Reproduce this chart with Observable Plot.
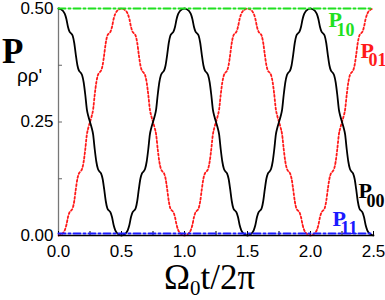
<!DOCTYPE html>
<html><head><meta charset="utf-8">
<script src="https://cdn.jsdelivr.net/npm/d3@7"></script>
<script src="https://cdn.jsdelivr.net/npm/@observablehq/plot@0.6"></script>
<style>body{margin:0;background:#fff}</style>
</head><body><div id="chart"></div>
<script>
// time grid, Omega0 t / 2pi
const t = d3.range(201).map(i => +(i * 0.0125).toFixed(4));
// P00 (black, solid)
const p00 = [
0.500,0.499,0.497,0.494,0.488,0.477,0.460,0.449,0.445,0.440,0.424,0.398,0.375,0.363,0.359,0.353,0.337,0.310,0.278,0.262,
0.250,0.238,0.222,0.190,0.163,0.147,0.141,0.137,0.125,0.102,0.076,0.060,0.055,0.051,0.040,0.023,0.012,0.006,0.003,0.001,
0.000,
0.001,0.003,0.006,0.012,0.023,0.040,0.051,0.055,0.060,0.076,0.102,0.125,0.137,0.141,0.147,0.163,0.190,0.222,0.238,0.250,
0.262,0.278,0.310,0.337,0.353,0.359,0.363,0.375,0.398,0.424,0.440,0.445,0.449,0.460,0.477,0.488,0.494,0.497,0.499,0.500,
0.499,0.497,0.494,0.488,0.477,0.460,0.449,0.445,0.440,0.424,0.398,0.375,0.363,0.359,0.353,0.337,0.310,0.278,0.262,0.250,
0.238,0.222,0.190,0.163,0.147,0.141,0.137,0.125,0.102,0.076,0.060,0.055,0.051,0.040,0.023,0.012,0.006,0.003,0.001,0.000,
0.001,0.003,0.006,0.012,0.023,0.040,0.051,0.055,0.060,0.076,0.102,0.125,0.137,0.141,0.147,0.163,0.190,0.222,0.238,0.250,
0.262,0.278,0.310,0.337,0.353,0.359,0.363,0.375,0.398,0.424,0.440,0.445,0.449,0.460,0.477,0.488,0.494,0.497,0.499,0.500,
0.499,0.497,0.494,0.488,0.477,0.460,0.449,0.445,0.440,0.424,0.398,0.375,0.363,0.359,0.353,0.337,0.310,0.278,0.262,0.250,
0.238,0.222,0.190,0.163,0.147,0.141,0.137,0.125,0.102,0.076,0.060,0.055,0.051,0.040,0.023,0.012,0.006,0.003,0.001,0.000
];
// P01 (red, dotted)
const p01 = [
0.000,0.001,0.003,0.006,0.012,0.023,0.040,0.051,0.055,0.060,0.076,0.102,0.125,0.137,0.141,0.147,0.163,0.190,0.222,0.238,
0.250,0.262,0.278,0.310,0.337,0.353,0.359,0.363,0.375,0.398,0.424,0.440,0.445,0.449,0.460,0.477,0.488,0.494,0.497,0.499,
0.500,
0.499,0.497,0.494,0.488,0.477,0.460,0.449,0.445,0.440,0.424,0.398,0.375,0.363,0.359,0.353,0.337,0.310,0.278,0.262,0.250,
0.238,0.222,0.190,0.163,0.147,0.141,0.137,0.125,0.102,0.076,0.060,0.055,0.051,0.040,0.023,0.012,0.006,0.003,0.001,0.000,
0.001,0.003,0.006,0.012,0.023,0.040,0.051,0.055,0.060,0.076,0.102,0.125,0.137,0.141,0.147,0.163,0.190,0.222,0.238,0.250,
0.262,0.278,0.310,0.337,0.353,0.359,0.363,0.375,0.398,0.424,0.440,0.445,0.449,0.460,0.477,0.488,0.494,0.497,0.499,0.500,
0.499,0.497,0.494,0.488,0.477,0.460,0.449,0.445,0.440,0.424,0.398,0.375,0.363,0.359,0.353,0.337,0.310,0.278,0.262,0.250,
0.238,0.222,0.190,0.163,0.147,0.141,0.137,0.125,0.102,0.076,0.060,0.055,0.051,0.040,0.023,0.012,0.006,0.003,0.001,0.000,
0.001,0.003,0.006,0.012,0.023,0.040,0.051,0.055,0.060,0.076,0.102,0.125,0.137,0.141,0.147,0.163,0.190,0.222,0.238,0.250,
0.262,0.278,0.310,0.337,0.353,0.359,0.363,0.375,0.398,0.424,0.440,0.445,0.449,0.460,0.477,0.488,0.494,0.497,0.499,0.500
];
// P10 (green) and P11 (blue), constant
const tEnds = [0, 2.5];
const p10 = [0.5, 0.5];
const p11 = [0.0, 0.0];
// ticks
const xTickLabels = [0, 0.5, 1.0, 1.5, 2.0, 2.5];
const xTickAll = [0, 0.25, 0.5, 0.75, 1.0, 1.25, 1.5, 1.75, 2.0, 2.25, 2.5];
const yTickLabels = [0, 0.25, 0.5];
const yTickAll = [0, 0.125, 0.25, 0.375, 0.5];

const black = t.map((x, i) => ({t: x, v: p00[i]}));
const red = t.map((x, i) => ({t: x, v: p01[i]}));
const green = tEnds.map((x, i) => ({t: x, v: p10[i]}));
const blue = tEnds.map((x, i) => ({t: x, v: p11[i]}));

const serif = "'Liberation Serif','Times New Roman',serif";
function plabel(sub, x, y, color) {
  return [
    Plot.text(["P"], {x, y, text: d => d, fill: color, fontFamily: serif, fontWeight: "bold", fontSize: 22, textAnchor: "start", lineAnchor: "bottom"}),
    Plot.text([sub], {x, y, text: d => d, fill: color, fontFamily: serif, fontWeight: "bold", fontSize: 18, textAnchor: "start", lineAnchor: "bottom", dx: 8, dy: 8.5})
  ];
}

const chart = Plot.plot({
  width: 385, height: 300,
  marginLeft: 58, marginRight: 12, marginTop: 8, marginBottom: 65,
  style: {fontFamily: "'Liberation Sans', Arial, sans-serif", fontSize: "17px", color: "#000", background: "#fff", overflow: "visible"},
  x: {domain: [0, 2.5], label: null},
  y: {domain: [0, 0.5], label: null},
  marks: [
    Plot.ruleX([0], {stroke: "#777", strokeWidth: 1.3}),
    Plot.axisX({ticks: xTickAll, tickSize: -4, text: null, label: null, strokeWidth: 1}),
    Plot.axisX({ticks: xTickLabels, tickSize: 0, tickPadding: 9, tickFormat: d => d.toFixed(1), label: null, fontSize: 17}),
    Plot.axisY({ticks: yTickAll, tickSize: -4, text: null, label: null, stroke: "#666"}),
    Plot.axisY({ticks: yTickLabels, tickSize: 0, tickPadding: 5, tickFormat: d => d.toFixed(2), label: null, fontSize: 17}),
    Plot.line(red, {x: "t", y: "v", stroke: "#ff1a1a", strokeWidth: 1.8, strokeDasharray: "2,2.2", curve: "monotone-x"}),
    Plot.line(black, {x: "t", y: "v", stroke: "#000", strokeWidth: 1.8, curve: "monotone-x"}),
    Plot.line(green, {x: "t", y: "v", stroke: "#1fe01f", strokeWidth: 2, strokeDasharray: "7,3,2,3"}),
    Plot.ruleY([0], {stroke: "#000", strokeWidth: 1.5}),
    Plot.line(blue, {x: "t", y: "v", stroke: "#1a1aff", strokeWidth: 2, strokeDasharray: "7,3,2,3", dy: -2}),
    ...plabel("10", 2.143, 0.459, "#1fe01f"),
    ...plabel("01", 2.397, 0.392, "#ff1a1a"),
    ...plabel("00", 2.381, 0.0815, "#000"),
    ...plabel("11", 2.175, 0.022, "#1a1aff")
  ]
});
document.getElementById("chart").appendChild(chart);

const svg = d3.select(chart);
// y axis title P_{ρρ'}
const yl = svg.append("text").attr("x", 2).attr("y", 63).attr("fill", "#000").attr("text-anchor", "start");
yl.append("tspan").attr("font-family", serif).attr("font-weight", "bold").attr("font-size", 35).text("P");
yl.append("tspan").attr("x", 17).attr("y", 82).attr("font-family", "'Liberation Sans',Arial,sans-serif").attr("font-size", 19).text("ρρ'");
// x axis title Ω0 t/2π
const xl = svg.append("text").attr("x", 164).attr("y", 289).attr("fill", "#000").attr("text-anchor", "start").attr("font-family", serif).attr("font-size", 35);
xl.append("tspan").text("Ω");
xl.append("tspan").attr("font-size", 21).attr("dy", 6).text("0");
xl.append("tspan").attr("dy", -6).text("t/2π");
</script>
</body></html>
